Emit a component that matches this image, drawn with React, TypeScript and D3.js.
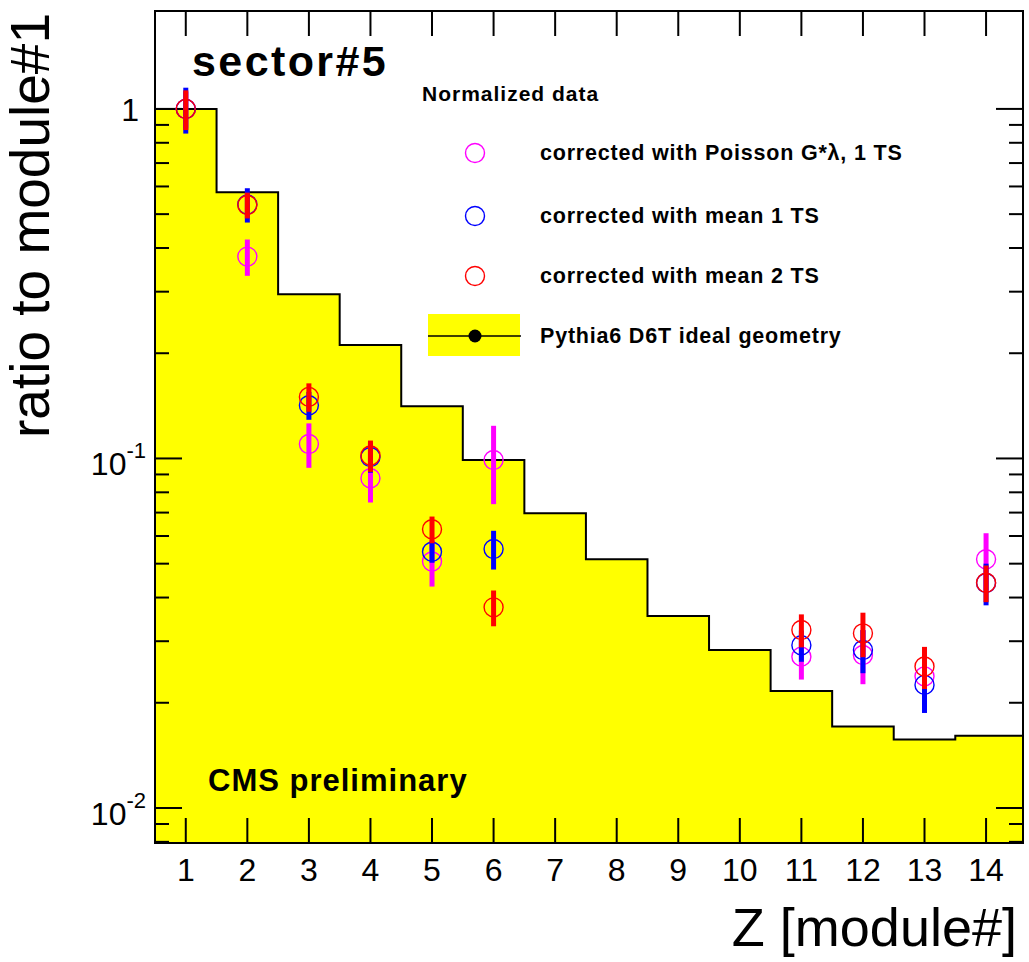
import React from "react";
import * as d3 from "d3";

// Module numbers along Z and the simulated (Pythia6 D6T) ratio for each module
const modules = [1, 2, 3, 4, 5, 6, 7, 8, 9, 10, 11, 12, 13, 14];
const pythiaRatio = [1.0, 0.578, 0.295, 0.211, 0.141, 0.099, 0.0697, 0.0515, 0.0354, 0.0283, 0.0216, 0.0171, 0.0157, 0.0161];

// Measured modules (7-10 have no data)
const dataModules = [1, 2, 3, 4, 5, 6, 11, 12, 13, 14];

// corrected with Poisson G*lambda, 1 TS
const poissonVal = [1.0, 0.378, 0.11, 0.0878, 0.0507, 0.099, 0.0271, 0.0274, 0.0238, 0.0515];
const poissonErr = [0.12, 0.045, 0.016, 0.013, 0.0077, 0.025, 0.0038, 0.0048, 0.0035, 0.0096];

// corrected with mean 1 TS
const mean1Val = [1.0, 0.533, 0.142, 0.101, 0.0541, 0.0551, 0.0292, 0.0283, 0.0225, 0.044];
const mean1Err = [0.15, 0.06, 0.013, 0.01, 0.0038, 0.007, 0.003, 0.004, 0.0038, 0.006];

// corrected with mean 2 TS
const mean2Val = [1.0, 0.531, 0.15, 0.102, 0.0627, 0.0375, 0.0323, 0.0316, 0.0254, 0.0441];
const mean2Err = [0.13, 0.045, 0.014, 0.0105, 0.0055, 0.0044, 0.0035, 0.0046, 0.0035, 0.0053];

const xTickLabels = ["1", "2", "3", "4", "5", "6", "7", "8", "9", "10", "11", "12", "13", "14"];

const legendTitle = "Normalized data";
const legendLabels = [
  "corrected with Poisson G*\u03bb, 1 TS",
  "corrected with mean 1 TS",
  "corrected with mean 2 TS",
  "Pythia6 D6T ideal geometry",
];

const W = 1029;
const H = 962;
const frame = { left: 155, right: 1023, top: 11, bottom: 843 };

const FONT = "'Liberation Sans', Arial, Helvetica, sans-serif";

export default function App() {
  const x = d3.scaleLinear().domain([0.5, 14.6]).range([frame.left, frame.right]);
  const y = d3.scaleLog().domain([0.00794, 1.906]).range([frame.bottom, frame.top]);

  // histogram step outline
  const edges = modules.map((m) => m - 0.5).concat([14.6]);
  let outline = `M${x(edges[0])},${y(pythiaRatio[0])}`;
  pythiaRatio.forEach((v, i) => {
    outline += `L${x(edges[i])},${y(v)}L${x(edges[i + 1])},${y(v)}`;
  });
  const fillPath =
    `M${x(edges[0])},${frame.bottom}` +
    outline.replace(/^M/, "L") +
    `L${x(edges[edges.length - 1])},${frame.bottom}Z`;

  // log-axis ticks
  const yTicks: { v: number; major: boolean }[] = [];
  const [y0, y1] = y.domain();
  for (let d = -3; d <= 0; d++) {
    for (let m = 1; m <= 9; m++) {
      const v = m * Math.pow(10, d);
      if (v >= y0 && v <= y1) yTicks.push({ v, major: m === 1 });
    }
  }

  const series = [
    { color: "#ff00ff", vals: poissonVal, errs: poissonErr },
    { color: "#0000ff", vals: mean1Val, errs: mean1Err },
    { color: "#ff0000", vals: mean2Val, errs: mean2Err },
  ];

  const legendX = 475;
  const legendTextX = 540;
  const legendRows = [153, 216, 276];

  return (
    <svg
      width={W}
      height={H}
      viewBox={`0 0 ${W} ${H}`}
      style={{ position: "absolute", left: 0, top: 0, background: "#fff" }}
      fontFamily={FONT}
    >
      <rect x={0} y={0} width={W} height={H} fill="#fff" />

      {/* simulation histogram */}
      <path d={fillPath} fill="#ffff00" stroke="none" />
      <path d={outline} fill="none" stroke="#000" strokeWidth={2} />

      {/* ticks */}
      {yTicks.map((t, i) => {
        const len = t.major ? 27 : 14;
        const yy = y(t.v);
        return (
          <g key={"yt" + i} stroke="#000" strokeWidth={2}>
            <line x1={frame.left} x2={frame.left + len} y1={yy} y2={yy} />
            <line x1={frame.right} x2={frame.right - len} y1={yy} y2={yy} />
          </g>
        );
      })}
      {modules.map((m) => (
        <g key={"xt" + m} stroke="#000" strokeWidth={2}>
          <line x1={x(m)} x2={x(m)} y1={frame.bottom} y2={frame.bottom - 25} />
          <line x1={x(m)} x2={x(m)} y1={frame.top} y2={frame.top + 25} />
        </g>
      ))}

      {/* frame */}
      <rect
        x={frame.left}
        y={frame.top}
        width={frame.right - frame.left}
        height={frame.bottom - frame.top}
        fill="none"
        stroke="#000"
        strokeWidth={2}
      />

      {/* x tick labels */}
      {modules.map((m, i) => (
        <text key={"xl" + m} x={x(m)} y={881} fontSize={32} textAnchor="middle" fill="#000">
          {xTickLabels[i]}
        </text>
      ))}

      {/* y tick labels */}
      <text x={139} y={y(1) + 12} fontSize={32} textAnchor="end" fill="#000">1</text>
      {[-1, -2].map((e) => (
        <text key={"ye" + e} x={146} y={y(Math.pow(10, e)) + 17} fontSize={32} textAnchor="end" fill="#000">
          10
          <tspan fontSize={22} dy={-17}>{`-${-e}`}</tspan>
        </text>
      ))}

      {/* axis titles */}
      <text x={1017} y={946} fontSize={54} textAnchor="end" fill="#000">
        Z [module#]
      </text>
      <text
        transform="translate(49,13) rotate(-90)"
        fontSize={55}
        textAnchor="end"
        fill="#000"
      >
        ratio to module#1
      </text>

      {/* data points: error bars and open markers */}
      {series.map((s, si) => (
        <g key={"s" + si}>
          {dataModules.map((m, i) => (
            <line
              key={"e" + i}
              x1={x(m)}
              x2={x(m)}
              y1={y(s.vals[i] + s.errs[i])}
              y2={y(s.vals[i] - s.errs[i])}
              stroke={s.color}
              strokeWidth={5}
            />
          ))}
          {dataModules.map((m, i) => (
            <circle
              key={"c" + i}
              cx={x(m)}
              cy={y(s.vals[i])}
              r={9.5}
              fill="none"
              stroke={s.color}
              strokeWidth={1.4}
            />
          ))}
        </g>
      ))}

      {/* annotations */}
      <text x={192} y={76} fontSize={43} fontWeight="bold" letterSpacing={2.4} fill="#000">
        sector#5
      </text>
      <text x={208} y={791} fontSize={31} fontWeight="bold" letterSpacing={1} fill="#000">
        CMS preliminary
      </text>

      {/* legend */}
      <text x={422} y={101} fontSize={21} fontWeight="bold" letterSpacing={1} fill="#000">
        {legendTitle}
      </text>
      {series.map((s, i) => (
        <g key={"lg" + i}>
          <circle cx={legendX} cy={legendRows[i]} r={9.5} fill="none" stroke={s.color} strokeWidth={1.4} />
          <text x={legendTextX} y={legendRows[i] + 7} fontSize={21.5} fontWeight="bold" letterSpacing={0.8} fill="#000">
            {legendLabels[i]}
          </text>
        </g>
      ))}
      <rect x={428} y={314} width={92} height={42} fill="#ffff00" />
      <line x1={428} x2={521} y1={336} y2={336} stroke="#000" strokeWidth={1.5} />
      <circle cx={legendX} cy={336} r={6.5} fill="#000" />
      <text x={legendTextX} y={343} fontSize={21.5} fontWeight="bold" letterSpacing={0.8} fill="#000">
        {legendLabels[3]}
      </text>
    </svg>
  );
}
